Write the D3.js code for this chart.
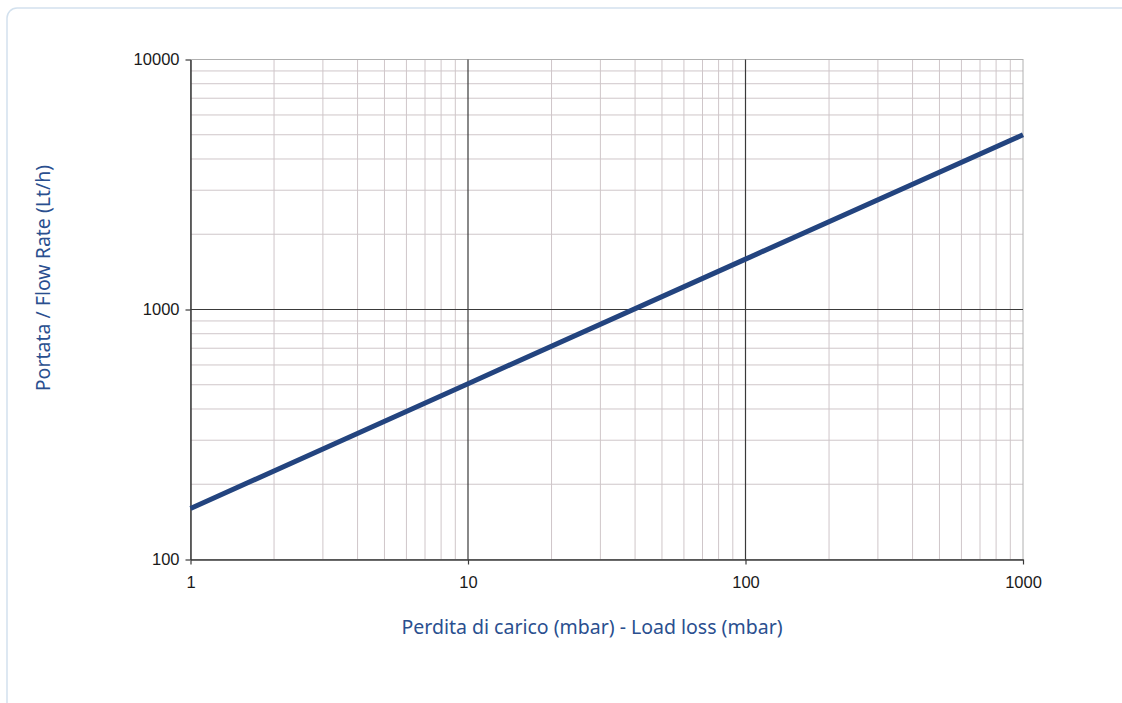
<!DOCTYPE html>
<html lang="it">
<head>
  <meta charset="UTF-8">
  <title>Portata / Perdita di carico</title>
  <style>
    body { margin: 0; background: #fff; }
    svg { display: block; }
  </style>
</head>
<body>
  <script src="https://cdn.jsdelivr.net/npm/d3@7/dist/d3.min.js"></script>
  <script>
    // dati
    let lossValues = [1, 10, 100, 1000]        // mbar
    let flowValues = [160, 505, 1590, 5000]    // Lt/h
    let xTickLabels = ['1', '10', '100', '1000']
    let yTickLabels = ['100', '1000', '10000']

    let width = 1122
    let height = 703
    let margin = { left: 190.5, top: 59.5, right: 99, bottom: 143.5 }
    let innerW = width - margin.left - margin.right
    let innerH = height - margin.top - margin.bottom

    let svg = d3.select('body').append('svg')
      .attr('width', width)
      .attr('height', height)

    // cornice esterna
    svg.append('rect')
      .attr('x', 7).attr('y', 8)
      .attr('width', width + 20).attr('height', height + 20)
      .attr('rx', 10)
      .attr('fill', 'none')
      .attr('stroke', '#d3e1ee')
      .attr('stroke-width', 1.5)

    let x = d3.scaleLog().domain([1, 1000]).range([0, innerW])
    let y = d3.scaleLog().domain([100, 10000]).range([innerH, 0])

    let g = svg.append('g').attr('transform', `translate(${margin.left},${margin.top})`)

    // griglia minore
    let minorX = x.ticks().filter(d => !xTickLabels.includes(String(d)))
    let minorY = y.ticks().filter(d => !yTickLabels.includes(String(d)))

    g.selectAll('.vminor').data(minorX).enter().append('line')
      .attr('x1', d => x(d)).attr('x2', d => x(d))
      .attr('y1', 0).attr('y2', innerH)
      .attr('stroke', '#cfc6c9').attr('stroke-width', 1)

    g.selectAll('.hminor').data(minorY).enter().append('line')
      .attr('y1', d => y(d)).attr('y2', d => y(d))
      .attr('x1', 0).attr('x2', innerW)
      .attr('stroke', '#cfc6c9').attr('stroke-width', 1)

    // bordo del riquadro
    g.append('rect')
      .attr('width', innerW).attr('height', innerH)
      .attr('fill', 'none').attr('stroke', '#b0b0b0')

    // griglia maggiore
    let majorX = xTickLabels.map(Number)
    let majorY = yTickLabels.map(Number)

    g.selectAll('.vmajor').data(majorX.slice(1, -1)).enter().append('line')
      .attr('x1', d => x(d)).attr('x2', d => x(d))
      .attr('y1', 0).attr('y2', innerH)
      .attr('stroke', '#3a3a3a').attr('stroke-width', 1.2)

    g.selectAll('.hmajor').data(majorY.slice(1, -1)).enter().append('line')
      .attr('y1', d => y(d)).attr('y2', d => y(d))
      .attr('x1', 0).attr('x2', innerW)
      .attr('stroke', '#3a3a3a').attr('stroke-width', 1.2)

    // assi
    let xAxis = g.append('g')
      .attr('transform', `translate(0,${innerH})`)
      .call(d3.axisBottom(x).tickValues(majorX).tickFormat((d, i) => xTickLabels[i])
        .tickSize(5).tickSizeOuter(0).tickPadding(12))
    let yAxis = g.append('g')
      .call(d3.axisLeft(y).tickValues(majorY).tickFormat((d, i) => yTickLabels[i])
        .tickSize(5).tickSizeOuter(0).tickPadding(6))

    ;[xAxis, yAxis].forEach(a => {
      a.attr('font-family', '"Liberation Sans", Arial, sans-serif').attr('font-size', 16.5)
      a.select('.domain').attr('stroke', '#3a3a3a').attr('stroke-width', 1.5)
      a.selectAll('.tick line').attr('stroke', '#3a3a3a').attr('stroke-width', 1.2)
      a.selectAll('text').attr('fill', '#1a1a1a')
    })

    // curva
    let line = d3.line()
      .x((d, i) => x(lossValues[i]))
      .y(d => y(d))

    g.append('path')
      .datum(flowValues)
      .attr('d', line)
      .attr('fill', 'none')
      .attr('stroke', '#23447f')
      .attr('stroke-width', 5)
      .attr('stroke-linecap', 'butt')

    // titoli assi
    svg.append('text')
      .attr('x', 592)
      .attr('y', 634)
      .attr('text-anchor', 'middle')
      .attr('fill', '#2a4f8f')
      .style('font-family', '"Noto Sans", sans-serif')
      .style('font-size', '19.5px')
      .text('Perdita di carico (mbar) - Load loss (mbar)')

    svg.append('text')
      .attr('transform', `translate(50,278) rotate(-90)`)
      .attr('text-anchor', 'middle')
      .attr('fill', '#2a4f8f')
      .style('font-family', '"Noto Sans", sans-serif')
      .style('font-size', '19.5px')
      .text('Portata / Flow Rate (Lt/h)')
  </script>
</body>
</html>
